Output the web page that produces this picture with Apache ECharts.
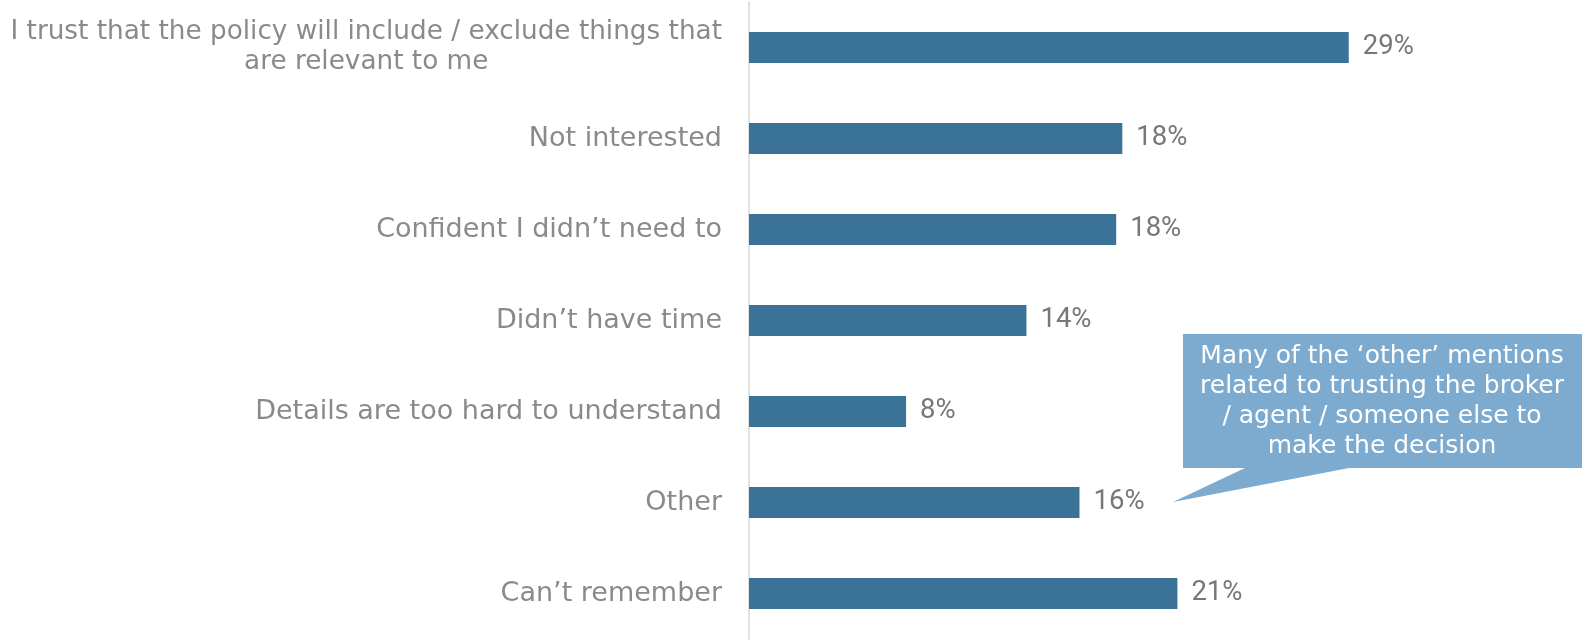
<!DOCTYPE html>
<html>
<head>
<meta charset="utf-8">
<script src="https://cdn.jsdelivr.net/npm/echarts@6/dist/echarts.min.js"></script>
<style>
html,body{margin:0;padding:0;background:#fff;}
#chart{width:1582px;height:641px;}
</style>
</head>
<body>
<div id="chart"></div>
<script>
const categories = [
  "I trust that the policy will include / exclude things that\nare relevant to me",
  "Not interested",
  "Confident I didn\u2019t need to",
  "Didn\u2019t have time",
  "Details are too hard to understand",
  "Other",
  "Can\u2019t remember"
];
const values = [29.4, 18.3, 18.0, 13.6, 7.7, 16.2, 21.0];
const calloutText = [
  "Many of the \u2018other\u2019 mentions",
  "related to trusting the broker",
  "/ agent / someone else to",
  "make the decision"
];

const chart = echarts.init(document.getElementById('chart'), null, {renderer: 'canvas'});
chart.setOption({
  animation: false,
  backgroundColor: '#ffffff',
  grid: {left: 749, right: 17, top: 2, bottom: 2, containLabel: false},
  xAxis: {
    type: 'value', min: 0, max: 40, show: false
  },
  yAxis: {
    type: 'category', data: categories, inverse: true,
    axisLine: {show: true, lineStyle: {color: '#d9d9d9', width: 1.5}},
    axisTick: {show: false},
    axisLabel: {
      margin: 27, color: '#8a8a8a', fontSize: 27, lineHeight: 30,
      fontFamily: 'DejaVu Sans', align: 'right',
      formatter: function (v) {
        if (v.indexOf('\n') < 0) return v;
        return v.split('\n').map(s => '{c|' + s + '}').join('\n');
      },
      rich: {
        c: {align: 'center', color: '#8a8a8a', fontSize: 26.3, lineHeight: 30, fontFamily: 'DejaVu Sans'}
      }
    }
  },
  series: [{
    type: 'bar', data: values, barWidth: 31,
    itemStyle: {color: '#3b7297'},
    label: {
      show: true, position: 'right', distance: 14,
      color: '#777777', fontSize: 27.5, fontFamily: 'Roboto',
      formatter: p => Math.round(p.value) + '%'
    }
  }],
  graphic: [
    {
      type: 'polygon', z: 10,
      shape: {points: [[1183,334],[1582,334],[1582,468],[1349,468],[1173,502],[1245,468],[1183,468]]},
      style: {fill: '#7dabcf'}
    },
    {
      type: 'text', z: 11, x: 1382, y: 401,
      style: {
        text: calloutText.join('\n'), fill: '#ffffff', fontSize: 25, lineHeight: 30,
        fontFamily: 'DejaVu Sans', align: 'center', verticalAlign: 'middle'
      }
    }
  ]
});
</script>
</body>
</html>
